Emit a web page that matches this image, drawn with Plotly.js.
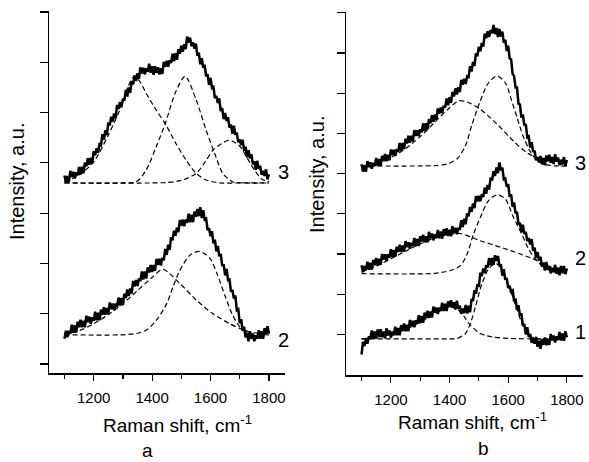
<!DOCTYPE html>
<html>
<head>
<meta charset="utf-8">
<script src="https://cdn.plot.ly/plotly-3.0.1.min.js"></script>
<style>html,body{margin:0;padding:0;background:#fff;}#chart{width:589px;height:462px;}</style>
</head>
<body>
<div id="chart"></div>
<script>
// Raman shift sampling (cm-1)
const shift = [1100,1105,1110,1115,1120,1125,1130,1135,1140,1145,1150,1155,1160,1165,1170,1175,1180,1185,1190,1195,
1200,1205,1210,1215,1220,1225,1230,1235,1240,1245,1250,1255,1260,1265,1270,1275,1280,1285,1290,1295,
1300,1305,1310,1315,1320,1325,1330,1335,1340,1345,1350,1355,1360,1365,1370,1375,1380,1385,1390,1395,
1400,1405,1410,1415,1420,1425,1430,1435,1440,1445,1450,1455,1460,1465,1470,1475,1480,1485,1490,1495,
1500,1505,1510,1515,1520,1525,1530,1535,1540,1545,1550,1555,1560,1565,1570,1575,1580,1585,1590,1595,
1600,1605,1610,1615,1620,1625,1630,1635,1640,1645,1650,1655,1660,1665,1670,1675,1680,1685,1690,1695,
1700,1705,1710,1715,1720,1725,1730,1735,1740,1745,1750,1755,1760,1765,1770,1775,1780,1785,1790,1795,1800];

// Panel a, spectrum 3
const a3 = [4.75,4.61,4.74,4.62,4.84,4.72,4.82,4.69,4.81,4.75,4.92,4.77,4.92,4.79,5.01,4.93,5.09,4.96,5.10,4.99,
5.23,5.15,5.29,5.20,5.37,5.35,5.57,5.46,5.65,5.55,5.80,5.74,5.92,5.82,5.98,5.89,6.15,6.07,6.21,6.11,
6.27,6.24,6.45,6.32,6.50,6.39,6.63,6.56,6.74,6.63,6.78,6.67,6.90,6.78,6.89,6.76,6.88,6.81,6.97,6.79,
6.92,6.75,6.92,6.79,6.90,6.76,6.88,6.77,7.01,6.91,7.03,6.91,7.04,6.99,7.17,7.02,7.18,7.05,7.26,7.17,
7.33,7.21,7.36,7.26,7.51,7.39,7.49,7.32,7.40,7.27,7.37,7.13,7.19,6.96,7.08,6.89,6.95,6.72,6.76,6.55,
6.69,6.49,6.51,6.29,6.33,6.19,6.28,6.03,6.09,5.87,5.99,5.83,5.91,5.70,5.76,5.58,5.74,5.56,5.60,5.41,
5.47,5.35,5.46,5.24,5.32,5.11,5.25,5.09,5.17,4.97,5.03,4.86,5.04,4.88,4.94,4.76,4.84,4.74,4.87,4.67,4.77];
// Panel a, spectrum 2
const a2 = [1.50,1.66,1.53,1.66,1.60,1.78,1.62,1.77,1.63,1.84,1.73,1.88,1.73,1.86,1.73,1.96,1.83,1.94,1.80,1.93,
1.86,2.04,1.87,2.02,1.87,2.08,1.98,2.13,1.98,2.11,1.99,2.22,2.09,2.20,2.07,2.20,2.14,2.32,2.16,2.31,
2.17,2.40,2.31,2.48,2.35,2.50,2.40,2.65,2.54,2.67,2.55,2.70,2.65,2.84,2.68,2.84,2.70,2.92,2.82,2.97,
2.83,2.97,2.85,3.09,2.97,3.09,2.96,3.11,3.06,3.29,3.17,3.37,3.27,3.52,3.46,3.65,3.55,3.71,3.62,3.86,
3.75,3.87,3.74,3.87,3.81,3.99,3.82,3.97,3.82,4.03,3.93,4.08,3.94,4.12,3.90,4.06,3.87,3.89,3.66,3.70,
3.54,3.64,3.40,3.47,3.24,3.35,3.14,3.19,2.95,2.98,2.76,2.89,2.67,2.68,2.44,2.47,2.30,2.36,2.07,2.09,
1.81,1.89,1.66,1.74,1.53,1.62,1.45,1.65,1.50,1.60,1.45,1.57,1.50,1.67,1.50,1.65,1.50,1.71,1.60,1.75,1.60];
// Panel b, spectra 3, 2, 1
const b3 = [5.23,5.05,5.20,5.05,5.31,5.16,5.28,5.12,5.27,5.19,5.39,5.19,5.36,5.19,5.44,5.31,5.49,5.31,5.47,5.33,
5.60,5.46,5.59,5.44,5.61,5.54,5.76,5.57,5.76,5.61,5.87,5.75,5.94,5.77,5.94,5.80,6.08,5.94,6.08,5.93,
6.10,6.03,6.25,6.06,6.25,6.10,6.36,6.25,6.45,6.29,6.47,6.34,6.62,6.49,6.64,6.51,6.69,6.64,6.87,6.70,
6.90,6.76,7.03,6.92,7.12,6.97,7.15,7.03,7.33,7.21,7.36,7.23,7.42,7.40,7.67,7.54,7.78,7.68,7.99,7.92,
8.16,8.04,8.25,8.16,8.48,8.37,8.54,8.40,8.57,8.49,8.70,8.47,8.62,8.40,8.60,8.41,8.53,8.26,8.33,8.05,
8.18,7.87,7.84,7.48,7.43,7.14,7.14,6.74,6.72,6.39,6.47,6.20,6.23,5.91,5.93,5.65,5.78,5.54,5.57,5.33,
5.41,5.28,5.44,5.23,5.39,5.21,5.45,5.31,5.47,5.27,5.41,5.24,5.48,5.30,5.40,5.21,5.34,5.23,5.41,5.19,5.34];
const b2 = [2.72,2.55,2.70,2.61,2.81,2.61,2.78,2.61,2.85,2.72,2.90,2.72,2.88,2.73,3.00,2.86,2.99,2.83,2.99,2.91,
3.12,2.92,3.10,2.93,3.18,3.05,3.23,3.05,3.21,3.06,3.32,3.17,3.29,3.13,3.28,3.20,3.40,3.20,3.37,3.20,
3.44,3.31,3.48,3.29,3.44,3.29,3.55,3.39,3.51,3.34,3.49,3.40,3.60,3.39,3.56,3.38,3.62,3.48,3.64,3.45,
3.60,3.44,3.69,3.53,3.65,3.49,3.65,3.60,3.84,3.67,3.88,3.74,4.01,3.94,4.17,4.05,4.26,4.14,4.44,4.31,
4.45,4.31,4.48,4.42,4.65,4.50,4.72,4.60,4.90,4.83,5.06,4.94,5.15,5.01,5.28,5.08,5.15,4.86,4.88,4.67,
4.74,4.42,4.48,4.17,4.28,4.01,4.05,3.74,3.77,3.54,3.73,3.50,3.55,3.32,3.40,3.24,3.37,3.08,3.16,2.90,
3.05,2.84,2.93,2.69,2.79,2.59,2.80,2.61,2.70,2.52,2.65,2.55,2.73,2.51,2.66,2.47,2.70,2.55,2.70,2.50,2.64];
const b1 = [0.50,0.82,0.71,0.89,0.77,0.95,0.89,1.10,0.90,1.07,0.89,1.12,0.97,1.13,0.93,1.07,0.90,1.15,0.98,1.10,
0.92,1.07,0.98,1.19,0.98,1.16,0.98,1.23,1.09,1.27,1.08,1.24,1.08,1.36,1.21,1.34,1.18,1.35,1.27,1.48,
1.28,1.46,1.29,1.54,1.41,1.59,1.41,1.57,1.42,1.69,1.54,1.67,1.51,1.67,1.58,1.79,1.58,1.76,1.58,1.82,
1.68,1.85,1.66,1.80,1.62,1.84,1.64,1.72,1.51,1.64,1.53,1.73,1.52,1.71,1.55,1.88,1.83,2.10,2.01,2.25,
2.18,2.53,2.45,2.64,2.53,2.72,2.67,2.90,2.72,2.90,2.73,2.97,2.83,2.95,2.71,2.74,2.46,2.62,2.36,2.40,
2.15,2.21,2.03,2.13,1.82,1.89,1.61,1.73,1.47,1.52,1.21,1.26,1.00,1.18,0.94,1.01,0.79,0.90,0.77,0.94,
0.69,0.84,0.64,0.88,0.74,0.92,0.73,0.89,0.74,1.01,0.85,0.97,0.80,0.95,0.86,1.06,0.85,1.02,0.84,1.08,0.93];

// Fitted components (dashed)
const a3c1x = [1100,1150,1200,1250,1300,1320,1340,1360,1380,1414,1445,1482,1517,1551,1585,1631,1700,1800];
const a3c1y = [4.62,4.76,5.02,5.55,6.20,6.55,6.72,6.60,6.38,6.05,5.78,5.38,5.05,4.79,4.66,4.60,4.60,4.60];
const a3c2x = [1100,1300,1345,1379,1414,1445,1480,1513,1551,1585,1614,1642,1677,1720,1800];
const a3c2y = [4.60,4.60,4.62,4.85,5.32,5.78,6.40,6.72,6.25,5.65,5.19,4.79,4.62,4.60,4.60];
const a3c3x = [1100,1400,1450,1500,1551,1585,1608,1637,1665,1700,1725,1750,1775,1800];
const a3c3y = [4.60,4.60,4.61,4.65,4.79,5.05,5.25,5.38,5.45,5.33,5.10,4.86,4.68,4.62];

const a2c1x = [1100,1150,1200,1250,1300,1350,1400,1437,1495,1553,1608,1666,1711,1750,1800];
const a2c1y = [1.58,1.66,1.80,1.98,2.20,2.46,2.72,2.88,2.60,2.26,2.00,1.80,1.68,1.62,1.58];
const a2c2x = [1100,1300,1350,1382,1416,1450,1472,1495,1529,1562,1598,1622,1650,1675,1700,1725,1750,1800];
const a2c2y = [1.58,1.58,1.61,1.68,1.88,2.20,2.54,2.86,3.16,3.24,3.10,2.80,2.35,1.98,1.74,1.63,1.59,1.58];

const b3c1x = [1100,1150,1200,1250,1300,1350,1400,1432,1460,1505,1562,1618,1663,1697,1750,1800];
const b3c1y = [5.19,5.26,5.40,5.62,5.92,6.28,6.64,6.81,6.78,6.60,6.23,5.81,5.52,5.40,5.28,5.22];
const b3c2x = [1100,1300,1350,1392,1426,1454,1477,1505,1533,1562,1590,1612,1630,1650,1675,1700,1725,1760,1800];
const b3c2y = [5.19,5.19,5.20,5.24,5.37,5.69,6.23,6.81,7.26,7.43,7.26,6.81,6.40,5.95,5.55,5.32,5.23,5.19,5.19];

const b2c1x = [1100,1150,1200,1250,1300,1350,1400,1437,1505,1573,1641,1697,1721,1766,1800];
const b2c1y = [2.55,2.70,2.88,3.07,3.25,3.40,3.49,3.51,3.33,3.17,3.00,2.84,2.74,2.64,2.60];
const b2c2x = [1100,1350,1403,1437,1460,1482,1505,1533,1562,1590,1618,1646,1669,1692,1720,1750,1800];
const b2c2y = [2.51,2.52,2.59,2.71,3.00,3.50,3.91,4.33,4.47,4.37,3.91,3.50,3.13,2.88,2.68,2.57,2.52];

const b1c1x = [1100,1150,1200,1250,1300,1350,1400,1425,1450,1466,1505,1550,1600,1700,1800];
const b1c1y = [0.89,0.93,1.00,1.12,1.30,1.52,1.68,1.64,1.44,1.27,1.02,0.93,0.90,0.89,0.89];
const b1c2x = [1100,1400,1426,1454,1471,1488,1510,1535,1560,1585,1610,1630,1650,1670,1690,1720];
const b1c2y = [0.89,0.89,0.90,1.02,1.27,1.68,2.25,2.65,2.76,2.50,2.05,1.62,1.22,0.98,0.90,0.89];

const spec = (x, y, xa, ya) => ({x, y, xaxis: xa, yaxis: ya, type: 'scatter', mode: 'lines',
  line: {color: '#000', width: 2.5, shape: 'linear'}, hoverinfo: 'skip', showlegend: false});
const comp = (x, y, xa, ya) => ({x, y, xaxis: xa, yaxis: ya, type: 'scatter', mode: 'lines',
  line: {color: '#000', width: 1.2, dash: '5px,3px', shape: 'spline', smoothing: 0.8}, hoverinfo: 'skip', showlegend: false});

const data = [
  comp(a3c1x, a3c1y, 'x', 'y'), comp(a3c2x, a3c2y, 'x', 'y'), comp(a3c3x, a3c3y, 'x', 'y'),
  comp(a2c1x, a2c1y, 'x', 'y'), comp(a2c2x, a2c2y, 'x', 'y'),
  spec(shift, a3, 'x', 'y'), spec(shift, a2, 'x', 'y'),
  comp(b3c1x, b3c1y, 'x2', 'y2'), comp(b3c2x, b3c2y, 'x2', 'y2'),
  comp(b2c1x, b2c1y, 'x2', 'y2'), comp(b2c2x, b2c2y, 'x2', 'y2'),
  comp(b1c1x, b1c1y, 'x2', 'y2'), comp(b1c2x, b1c2y, 'x2', 'y2'),
  spec(shift, b3, 'x2', 'y2'), spec(shift, b2, 'x2', 'y2'), spec(shift, b1, 'x2', 'y2')
];

const FONT = 'Liberation Sans, Arial, sans-serif';
const xax = (domain, anchor) => ({
  domain, anchor, range: [1047, 1855], showline: true, linecolor: '#000', linewidth: 1.5,
  ticks: 'outside', ticklen: 6, tickwidth: 1.2, tickcolor: '#000', tick0: 1200, dtick: 200,
  minor: {tick0: 1100, dtick: 200, ticks: 'outside', ticklen: 4, tickwidth: 1.2, tickcolor: '#000', showgrid: false},
  showgrid: false, zeroline: false, ticklabelstandoff: 4,
  tickfont: {family: FONT, size: 15, color: '#000'}, fixedrange: true
});
const yax = (domain, anchor, range, tv) => ({
  domain, anchor, range, showline: true, linecolor: '#000', linewidth: 1.5,
  ticks: 'outside', ticklen: 8, tickwidth: 1.2, tickcolor: '#000', tickvals: tv,
  showticklabels: false, showgrid: false, zeroline: false, fixedrange: true
});

const W = 589, H = 462;
const px = v => v / W, py = v => 1 - v / H;
const ann = (text, x, y, size, angle) => ({text, x: px(x), y: py(y), xref: 'paper', yref: 'paper',
  showarrow: false, xanchor: 'center', yanchor: 'middle', textangle: angle || 0,
  font: {family: FONT, size, color: '#000'}});

const layout = {
  width: W, height: H, margin: {l: 0, r: 0, t: 0, b: 0},
  paper_bgcolor: '#fff', plot_bgcolor: '#fff', showlegend: false,
  xaxis: xax([px(49), px(285)], 'y'),
  yaxis: yax([py(373), py(11)], 'x', [0.82, 8.02], [1, 2, 3, 4, 5, 6, 7, 8]),
  xaxis2: xax([px(346), px(583)], 'y2'),
  yaxis2: yax([py(375), py(12)], 'x2', [-0.01, 9.02], [1, 2, 3, 4, 5, 6, 7, 8, 9]),
  annotations: [
    ann('Intensity, a.u.', 17, 182, 20, -90),
    ann('Intensity, a.u.', 317, 175, 20, -90),
    ann('Raman shift, cm<sup>-1</sup>', 177, 424, 19),
    ann('Raman shift, cm<sup>-1</sup>', 472, 421, 19),
    ann('a', 147, 450, 19),
    ann('b', 483, 448, 19),
    ann('3', 283, 172, 20),
    ann('2', 283, 340, 20),
    ann('3', 580, 163, 20),
    ann('2', 580, 258, 20),
    ann('1', 580, 332, 20)
  ]
};

Plotly.newPlot('chart', data, layout, {displayModeBar: false, staticPlot: true});
</script>
</body>
</html>
